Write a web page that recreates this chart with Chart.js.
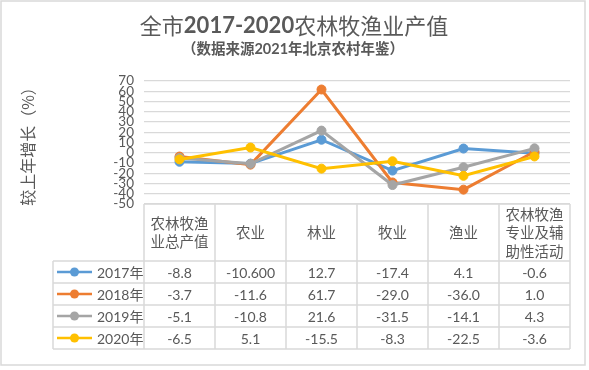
<!DOCTYPE html>
<html>
<head>
<meta charset="utf-8">
<script src="https://cdn.jsdelivr.net/npm/chart.js@4/dist/chart.umd.min.js"></script>
<style>
  html, body { margin: 0; padding: 0; background: #fff; }
</style>
</head>
<body>
<canvas id="grafica" width="589" height="370"></canvas>
<script>
// datos de la grafica
var categorias = ['农林牧渔业总产值', '农业', '林业', '牧业', '渔业', '农林牧渔专业及辅助性活动'];
var cabeceras = [['农林牧渔', '业总产值'], ['农业'], ['林业'], ['牧业'], ['渔业'], ['农林牧渔', '专业及辅', '助性活动']];
var anios = ['2017年', '2018年', '2019年', '2020年'];
var datos2017 = [-8.8, -10.6, 12.7, -17.4, 4.1, -0.6];
var datos2018 = [-3.7, -11.6, 61.7, -29.0, -36.0, 1.0];
var datos2019 = [-5.1, -10.8, 21.6, -31.5, -14.1, 4.3];
var datos2020 = [-6.5, 5.1, -15.5, -8.3, -22.5, -3.6];
var decimales2017 = [1, 3, 1, 1, 1, 1];
var decimales = [1, 1, 1, 1, 1, 1];
var ejeMin = -50, ejeMax = 70, ejePaso = 10;

var titulo1 = '全市', titulo2 = '2017-2020', titulo3 = '农林牧渔业产值';
var subtitulo = '（数据来源2021年北京农村年鉴）';
var tituloEje = '较上年增长（%）';

var colores = ['#5B9BD5', '#ED7D31', '#A5A5A5', '#FFC000'];
var gris = '#595959';
var linea = '#D9D9D9';
var fuente = "Lato, 'Noto Sans CJK SC', sans-serif";
var fuenteCJK = "'Noto Sans CJK SC', sans-serif";

var todos = [datos2017, datos2018, datos2019, datos2020];
var todosDec = [decimales2017, decimales, decimales, decimales];

var tablaPlugin = {
  id: 'tabla',
  beforeDraw: function(chart) {
    var ctx = chart.ctx;
    ctx.save();
    ctx.fillStyle = '#fff';
    ctx.fillRect(0, 0, chart.width, chart.height);
    ctx.restore();
  },
  afterDraw: function(chart) {
    var ctx = chart.ctx;
    var area = chart.chartArea;
    var ancho = (area.right - area.left) / categorias.length;
    var arriba = area.bottom;
    var altoCab = 57, altoFila = 22;
    var izq = 53;
    ctx.save();

    // titulo
    ctx.fillStyle = gris;
    ctx.textBaseline = 'middle';
    ctx.font = '22px ' + fuenteCJK;
    var w1 = ctx.measureText(titulo1).width, w3 = ctx.measureText(titulo3).width;
    ctx.font = 'bold 22px ' + fuente;
    var w2 = ctx.measureText(titulo2).width;
    var x = 294 - (w1 + w2 + w3) / 2;
    ctx.textAlign = 'left';
    ctx.font = '22px ' + fuenteCJK;
    ctx.fillText(titulo1, x, 26);
    ctx.font = 'bold 22px ' + fuente;
    ctx.fillText(titulo2, x + w1, 26);
    ctx.font = '22px ' + fuenteCJK;
    ctx.fillText(titulo3, x + w1 + w2, 26);
    ctx.textAlign = 'center';
    ctx.font = 'bold 14.5px ' + fuente;
    ctx.fillText(subtitulo, 293, 49);

    // lineas de la tabla
    ctx.strokeStyle = linea;
    ctx.lineWidth = 1.5;
    ctx.beginPath();
    for (var i = 0; i <= categorias.length; i++) {
      var xc = area.left + i * ancho;
      ctx.moveTo(xc, arriba);
      ctx.lineTo(xc, arriba + altoCab + anios.length * altoFila);
    }
    ctx.moveTo(area.left, arriba);
    ctx.lineTo(area.right, arriba);
    for (var r = 0; r <= anios.length; r++) {
      var yr = arriba + altoCab + r * altoFila;
      ctx.moveTo(izq, yr);
      ctx.lineTo(area.right, yr);
    }
    ctx.moveTo(izq, arriba + altoCab);
    ctx.lineTo(izq, arriba + altoCab + anios.length * altoFila);
    ctx.stroke();

    // cabeceras
    ctx.fillStyle = gris;
    ctx.textAlign = 'center';
    ctx.font = '14.5px ' + fuenteCJK;
    for (var c = 0; c < cabeceras.length; c++) {
      var lineas = cabeceras[c];
      var cx = area.left + (c + 0.5) * ancho;
      var cy = arriba + altoCab / 2;
      for (var l = 0; l < lineas.length; l++) {
        ctx.fillText(lineas[l], cx, cy + (l - (lineas.length - 1) / 2) * 18.5);
      }
    }

    // filas
    for (var s = 0; s < anios.length; s++) {
      var yf = arriba + altoCab + (s + 0.5) * altoFila;
      ctx.strokeStyle = colores[s];
      ctx.lineWidth = 2.5;
      ctx.beginPath();
      ctx.moveTo(57, yf);
      ctx.lineTo(92, yf);
      ctx.stroke();
      ctx.fillStyle = colores[s];
      ctx.beginPath();
      ctx.arc(74.5, yf, 4.5, 0, Math.PI * 2);
      ctx.fill();
      ctx.fillStyle = gris;
      ctx.textAlign = 'left';
      ctx.font = '14px ' + fuente;
      ctx.fillText(anios[s], 97, yf + 1);
      ctx.textAlign = 'center';
      for (var k = 0; k < categorias.length; k++) {
        ctx.fillText(todos[s][k].toFixed(todosDec[s][k]), area.left + (k + 0.5) * ancho, yf + 1);
      }
    }

    // borde exterior
    ctx.strokeStyle = linea;
    ctx.lineWidth = 1.5;
    ctx.strokeRect(1, 1, 584, 364);
    ctx.restore();
  }
};

var conjuntos = [];
for (var i = 0; i < anios.length; i++) {
  conjuntos.push({
    label: anios[i],
    data: todos[i],
    borderColor: colores[i],
    backgroundColor: colores[i],
    pointBackgroundColor: colores[i],
    pointBorderColor: colores[i],
    borderWidth: 3,
    pointRadius: 4.5,
    pointBorderWidth: 1,
    fill: false,
    tension: 0,
    order: anios.length - i
  });
}

var grafica = new Chart(document.getElementById('grafica'), {
  type: 'line',
  data: { labels: categorias, datasets: conjuntos },
  options: {
    responsive: false,
    animation: false,
    devicePixelRatio: 1,
    layout: { padding: { left: 0, top: 81, right: 19, bottom: 166 } },
    plugins: {
      legend: { display: false },
      tooltip: { enabled: false }
    },
    scales: {
      x: { type: 'category', offset: true, display: false },
      y: {
        min: ejeMin,
        max: ejeMax,
        afterFit: function(scale) { scale.width = 144; },
        border: { display: false },
        grid: { color: linea, lineWidth: 1.3, drawTicks: false },
        ticks: {
          stepSize: ejePaso,
          autoSkip: false,
          padding: 10,
          color: gris,
          font: { family: fuente, size: 13.5 }
        },
        title: {
          display: true,
          text: tituloEje,
          color: gris,
          padding: { top: 18, bottom: 0 },
          font: { family: fuenteCJK, size: 16 }
        }
      }
    }
  },
  plugins: [tablaPlugin]
});
</script>
</body>
</html>
